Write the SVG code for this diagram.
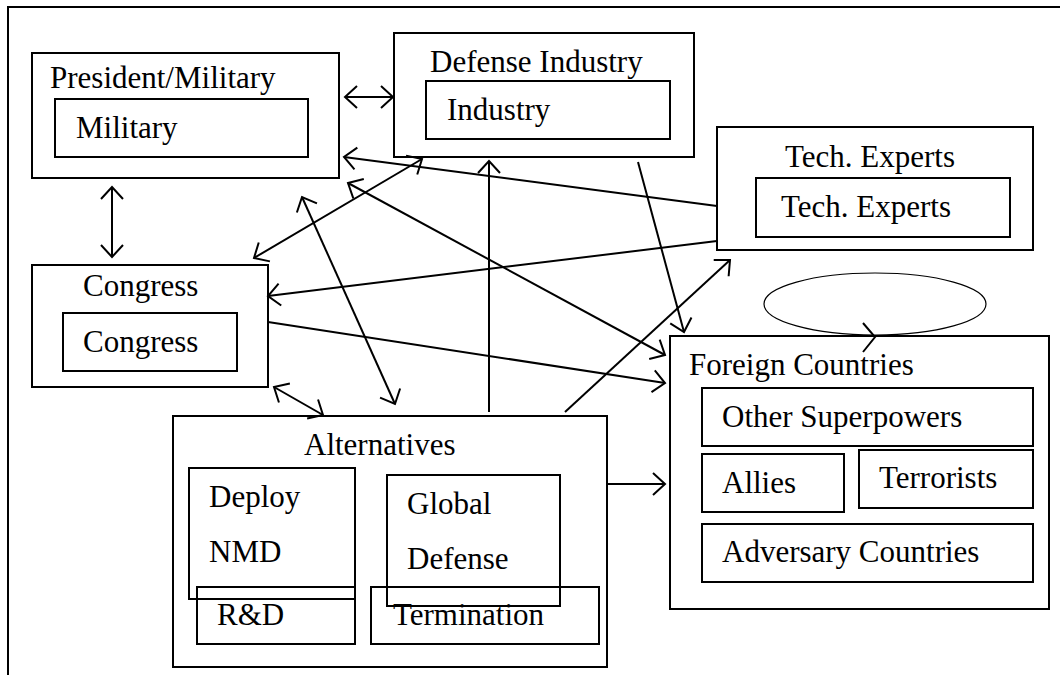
<svg xmlns="http://www.w3.org/2000/svg" width="1060" height="675" viewBox="0 0 1060 675">
<style>
.b{fill:#fff;stroke:#000;stroke-width:2}
.i{fill:none;stroke:#000;stroke-width:2}
.t{font-family:"Liberation Serif","Times New Roman",serif;font-size:31px;fill:#000}
.c{fill:none;stroke:#000;stroke-width:2}
</style>
<defs>
<marker id="a" markerWidth="30" markerHeight="30" refX="15" refY="15" orient="auto-start-reverse" markerUnits="userSpaceOnUse" viewBox="0 0 30 30">
<path d="M3 4 L15 15 L3 26" fill="none" stroke="#000" stroke-width="2"/>
</marker>
</defs>
<rect width="1060" height="675" fill="#fff"/>
<path d="M8 675 L8 7 L1060 7" fill="none" stroke="#000" stroke-width="2"/>

<g id="president">
<rect class="b" x="32" y="53" width="307" height="125"/>
<text class="t" x="50" y="88">President/Military</text>
<rect class="i" x="55" y="99" width="253" height="58"/>
<text class="t" x="76" y="138">Military</text>
</g>

<g id="defense">
<rect class="b" x="394" y="33" width="300" height="124"/>
<text class="t" x="430" y="72">Defense Industry</text>
<rect class="i" x="426" y="81" width="244" height="58"/>
<text class="t" x="447" y="120">Industry</text>
</g>

<g id="tech">
<rect class="b" x="717" y="127" width="316" height="123"/>
<text class="t" x="785" y="167">Tech. Experts</text>
<rect class="i" x="756" y="178" width="254" height="59"/>
<text class="t" x="781" y="217">Tech. Experts</text>
</g>

<g id="congress">
<rect class="b" x="32" y="265" width="236" height="122"/>
<text class="t" x="83" y="296">Congress</text>
<rect class="i" x="63" y="313" width="174" height="58"/>
<text class="t" x="83" y="352">Congress</text>
</g>

<g id="alternatives">
<rect class="b" x="173" y="416" width="434" height="251"/>
<text class="t" x="304" y="455">Alternatives</text>
<rect class="i" x="189" y="468" width="166" height="131"/>
<text class="t" x="209" y="507">Deploy</text>
<text class="t" x="209" y="562">NMD</text>
<rect class="i" x="197" y="587" width="158" height="57"/>
<text class="t" x="217" y="625">R&amp;D</text>
<rect class="i" x="387" y="475" width="173" height="131"/>
<text class="t" x="407" y="514">Global</text>
<text class="t" x="407" y="569">Defense</text>
<rect class="i" x="371" y="587" width="228" height="57"/>
<text class="t" x="393" y="625">Termination</text>
</g>

<g id="foreign">
<ellipse cx="875" cy="304" rx="111" ry="31" fill="none" stroke="#000" stroke-width="1.2"/>
<rect class="b" x="670" y="336" width="379" height="273"/>
<text class="t" x="689" y="375">Foreign Countries</text>
<rect class="i" x="702" y="388" width="331" height="58"/>
<text class="t" x="722" y="427">Other Superpowers</text>
<rect class="i" x="702" y="454" width="142" height="58"/>
<text class="t" x="722" y="493">Allies</text>
<rect class="i" x="859" y="450" width="174" height="58"/>
<text class="t" x="879" y="488">Terrorists</text>
<rect class="i" x="702" y="524" width="331" height="58"/>
<text class="t" x="722" y="562">Adversary Countries</text>
</g>

<g id="connectors">
<line class="c" x1="345" y1="97" x2="393" y2="97" marker-start="url(#a)" marker-end="url(#a)"/>
<line class="c" x1="112" y1="187" x2="112" y2="257" marker-start="url(#a)" marker-end="url(#a)"/>
<line class="c" x1="717" y1="206" x2="344" y2="157" marker-end="url(#a)"/>
<line class="c" x1="254" y1="258" x2="422" y2="159" marker-start="url(#a)" marker-end="url(#a)"/>
<line class="c" x1="717" y1="241" x2="268" y2="296" marker-end="url(#a)"/>
<line class="c" x1="302" y1="197" x2="395" y2="404" marker-start="url(#a)" marker-end="url(#a)"/>
<line class="c" x1="348" y1="183" x2="665" y2="355" marker-start="url(#a)" marker-end="url(#a)"/>
<line class="c" x1="268" y1="322" x2="665" y2="383" marker-end="url(#a)"/>
<line class="c" x1="489" y1="412" x2="489" y2="161" marker-end="url(#a)"/>
<line class="c" x1="638" y1="162" x2="684" y2="332" marker-end="url(#a)"/>
<line class="c" x1="565" y1="412" x2="730" y2="260" marker-end="url(#a)"/>
<line class="c" x1="274" y1="387" x2="323" y2="415" marker-start="url(#a)" marker-end="url(#a)"/>
<line class="c" x1="607" y1="484" x2="665" y2="484" marker-end="url(#a)"/>
<path class="c" d="M863 323 L875 337 L863 352"/>
</g>
</svg>
